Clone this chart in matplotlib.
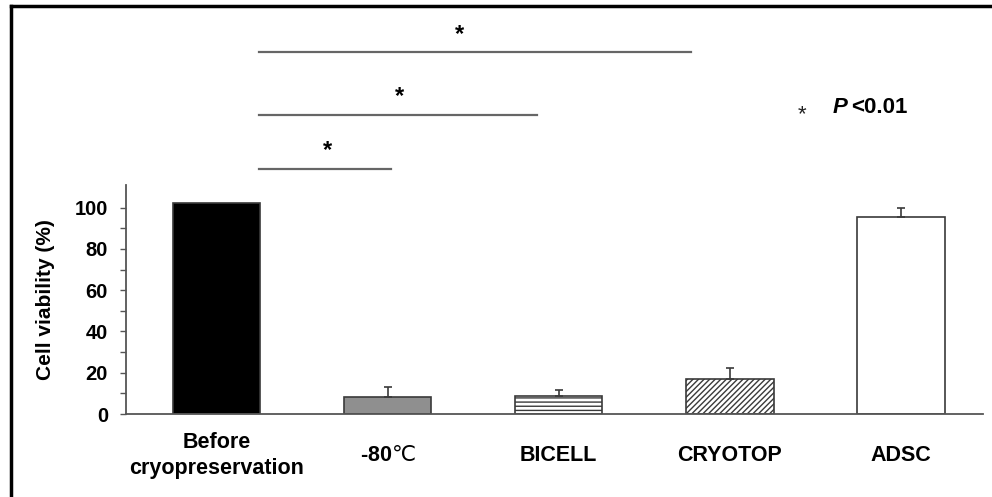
import matplotlib
matplotlib.use("Agg")
import matplotlib.pyplot as plt
from matplotlib.lines import Line2D
import numpy as np

plt.rcParams['font.family'] = ['Liberation Sans', 'DejaVu Sans']
plt.rcParams['mathtext.fontset'] = 'custom'
plt.rcParams['mathtext.rm'] = 'DejaVu Sans'

categories = ["Before\ncryopreservation", "-80$\\mathrm{\u2103}$", "BICELL", "CRYOTOP", "ADSC"]
values = [102.3, 8.4, 8.9, 17.1, 95.5]
errors = [0.0, 4.5, 2.9, 5.0, 4.4]
colors = ["#000000", "#8f8f8f", "#ffffff", "#ffffff", "#ffffff"]
hatches = [None, None, "----", "//////", None]
yticks = [0, 20, 40, 60, 80, 100]

fig = plt.figure(figsize=(9.92, 4.97), dpi=100)
ax = fig.add_axes([0.127, 0.167, 0.864, 0.461])

x = np.arange(len(categories))
edge = "#3a3a3a"
for i in range(len(categories)):
    ax.bar(x[i], values[i], width=0.51, color=colors[i], edgecolor=edge,
           linewidth=1.2, hatch=hatches[i], zorder=2)
    if errors[i] > 0:
        ax.errorbar(x[i], values[i], yerr=[[0], [errors[i]]], fmt='none',
                    ecolor=edge, elinewidth=1.2, capsize=3, capthick=1.2, zorder=3)

ax.set_xlim(-0.53, 4.48)
ax.set_ylim(0, 111)
ax.set_yticks(yticks)
ax.set_yticks([10, 30, 50, 70, 90], minor=True)
ax.set_xticks(x)
ax.set_xticklabels(categories, fontsize=15.5, fontweight='bold', linespacing=1.35)
for lab in ax.get_xticklabels():
    lab.set_verticalalignment('center')
ax.tick_params(axis='x', length=0, pad=30)
ax.tick_params(axis='y', which='both', direction='out', length=4, width=1,
               color="#555555", pad=9)
for lab in ax.get_yticklabels():
    lab.set_fontsize(14.5)
    lab.set_fontweight('bold')
ax.set_ylabel("Cell viability (%)", fontsize=15, fontweight='bold', labelpad=14)
for s in ['top', 'right']:
    ax.spines[s].set_visible(False)
for s in ['left', 'bottom']:
    ax.spines[s].set_color("#555555")
    ax.spines[s].set_linewidth(1.3)

# significance brackets
sig_lines = [(0.25, 1.02, 118.6, 0.65, 127.5),
             (0.25, 1.87, 144.8, 1.07, 154.0),
             (0.25, 2.77, 175.3, 1.42, 184.0)]
for x0, x1, yl, xs, ys in sig_lines:
    ax.plot([x0, x1], [yl, yl], color="#666666", lw=1.6, clip_on=False)
    ax.text(xs, ys, "*", ha='center', va='center', fontsize=17, fontweight='bold',
            clip_on=False)

ax.text(3.42, 145.0, "*", ha='center', va='center', fontsize=16, color="#222222",
        clip_on=False)
ax.text(3.6, 148.3, "P", ha='left', va='center', fontsize=16, fontweight='bold',
        fontstyle='italic', clip_on=False)
ax.text(3.71, 148.3, "<0.01", ha='left', va='center', fontsize=16, fontweight='bold',
        clip_on=False)

# frame (left and top edges)
fig.add_artist(Line2D([11 / 992, 11 / 992], [0, 1 - 6 / 497], color='black', lw=2.5,
                      transform=fig.transFigure))
fig.add_artist(Line2D([11 / 992, 1], [1 - 6 / 497, 1 - 6 / 497], color='black', lw=2.5,
                      transform=fig.transFigure))

fig.savefig("out.png", dpi=100)
